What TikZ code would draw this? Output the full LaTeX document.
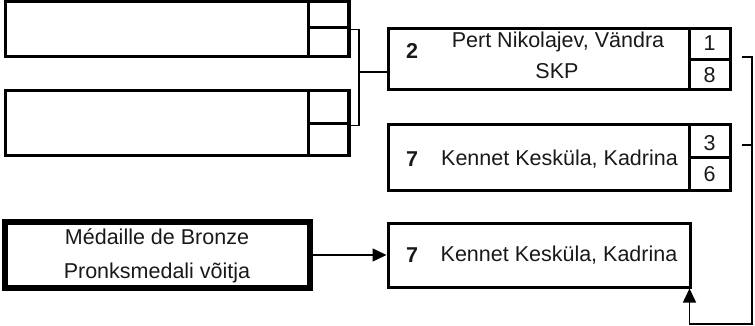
\documentclass[tikz,border=0pt]{standalone}
\usepackage{fontspec}
\setmainfont{Liberation Sans}
\usetikzlibrary{arrows.meta}
\begin{document}
\begin{tikzpicture}[x=1pt,y=-1pt,
  box/.style={draw, line width=3pt, rectangle, inner sep=0pt},
  cell/.style={draw, line width=3pt, rectangle, inner sep=0pt, minimum width=41pt},
  thickbox/.style={draw, line width=5.5pt, rectangle, inner sep=0pt},
  txt/.style={inner sep=0pt, font=\fontsize{21.5}{27}\selectfont, text=black!90},
  num/.style={inner sep=0pt, font=\fontsize{21.5}{27}\selectfont\bfseries, text=black!90},
  conn/.style={line width=1.5pt},
  arr/.style={line width=1.5pt, -{Triangle[length=14pt,width=13pt]}}]
\useasboundingbox (0,0) rectangle (755,326);
% left boxes
\node[box, minimum width=343pt, minimum height=55pt] (b1) at (176.5,29.5) {};
\node[cell, minimum height=26pt] (c1a) at (328.5,15) {};
\node[cell, minimum height=29pt] (c1b) at (328.5,42.5) {};
\node[box, minimum width=343pt, minimum height=65pt] (b2) at (176.5,123.5) {};
\node[cell, minimum height=33pt] (c2a) at (328.5,107.5) {};
\node[cell, minimum height=32pt] (c2b) at (328.5,140) {};
% Pert box
\node[box, minimum width=342pt, minimum height=61pt] (b3) at (559,59.5) {};
\node[cell, minimum height=30.5pt] (c3a) at (709.5,44.25) {};
\node[cell, minimum height=30.5pt] (c3b) at (709.5,74.75) {};
\node[num] (n3) at (412,51) {2};
\node[txt] (t3a) at (558,42) {Pert Nikolajev, Vändra};
\node[txt] (t3b) at (557,71) {SKP};
\node[txt] (s3a) at (709.5,43) {1};
\node[txt] (s3b) at (709.5,75) {8};
% Kennet box
\node[box, minimum width=342pt, minimum height=65pt] (b4) at (559,157.5) {};
\node[cell, minimum height=32.5pt] (c4a) at (709.5,141.25) {};
\node[cell, minimum height=32.5pt] (c4b) at (709.5,173.75) {};
\node[num] (n4) at (412,159) {7};
\node[txt] (t4) at (559.5,159) {Kennet Kesküla, Kadrina};
\node[txt] (s4a) at (709.5,143) {3};
\node[txt] (s4b) at (709.5,174) {6};
% Bronze
\node[thickbox, minimum width=305pt, minimum height=66pt] (b5) at (157.5,255) {};
\node[txt] (t5a) at (157,237) {Médaille de Bronze};
\node[txt] (t5b) at (157,273) {Pronksmedali võitja};
\node[box, minimum width=302pt, minimum height=64pt] (b6) at (539,255) {};
\node[num] (n6) at (412,255) {7};
\node[txt] (t6) at (559,255) {Kennet Kesküla, Kadrina};
% connectors
\coordinate (j1) at (359,72);
\draw[conn] (c1a.south east) -| (j1);
\draw[conn] (c2a.south east) -| (j1);
\draw[conn] (j1) -- (j1 -| b3.west);
\coordinate (k1) at (742,57);
\coordinate (k2) at (742,145);
\coordinate (k3) at (752,324);
\draw[conn] (k2) -- (k2 -| k3);
\draw[arr] (k1) -- (k1 -| k3) -- (k3) -| ([xshift=-2pt]b6.south east);
\draw[arr] (b5.east) -- (b6.west);
\end{tikzpicture}
\end{document}
